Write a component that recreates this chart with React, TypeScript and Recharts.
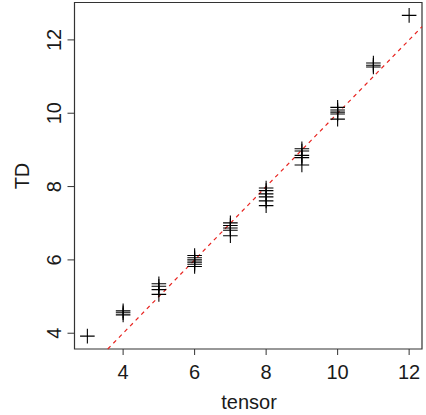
import React from 'react';
import { ScatterChart, Scatter, XAxis, YAxis, ReferenceArea, ReferenceLine } from 'recharts';

const tensor = [3, 4, 4, 4, 5, 5, 5, 5, 6, 6, 6, 6, 6, 6, 7, 7, 7, 7, 7, 8, 8, 8, 8, 8, 8, 9, 9, 9, 9, 9, 10, 10, 10, 10, 10, 11, 11, 11, 12];
const td = [3.92, 4.61, 4.56, 4.5, 5.35, 5.28, 5.19, 5.06, 6.12, 6.06, 6.0, 5.94, 5.88, 5.82, 7.01, 6.94, 6.87, 6.81, 6.66, 7.96, 7.89, 7.8, 7.72, 7.61, 7.48, 9.03, 8.97, 8.85, 8.79, 8.59, 10.16, 10.09, 10.03, 9.98, 9.84, 11.37, 11.31, 11.26, 12.67];
const xTicks = [4, 6, 8, 10, 12];
const yTicks = [4, 6, 8, 10, 12];
const xDomain = [2.64, 12.36];
const yDomain = [3.57, 13.02];
const ablineEnds = [3.57, 12.36];

const data = tensor.map((x, i) => ({ x, y: td[i] }));

const FONT = 'Liberation Sans, Arial, Helvetica, sans-serif';
const TXT = '#1a1a1a';

const Plus = (props: any) => {
  const { cx, cy } = props;
  const h = 7.3;
  return (
    <path d={`M${cx - h},${cy}H${cx + h}M${cx},${cy - h}V${cy + h}`} stroke="#000" strokeWidth={1.1} fill="none" />
  );
};

const XTick = (props: any) => {
  const { x, payload } = props;
  return (
    <text x={x} y={379} textAnchor="middle" fontSize={20} fontFamily={FONT} fill={TXT}>
      {payload.value}
    </text>
  );
};

const YTick = (props: any) => {
  const { y, payload } = props;
  return (
    <text x={61.2} y={y} transform={`rotate(-90 61.2 ${y})`} textAnchor="middle" fontSize={20} fontFamily={FONT} fill={TXT}>
      {payload.value}
    </text>
  );
};

export default function App() {
  return (
    <div style={{ position: 'absolute', left: 0, top: 0 }}>
      <ScatterChart width={426} height={415} margin={{ top: 2.5, right: 4, bottom: 0, left: 0 }}>
        <XAxis
          type="number"
          dataKey="x"
          domain={xDomain}
          ticks={xTicks}
          allowDataOverflow
          height={66}
          axisLine={false}
          tickLine={{ stroke: '#333' }}
          tickSize={6}
          tick={<XTick />}
        />
        <YAxis
          type="number"
          dataKey="y"
          domain={yDomain}
          ticks={yTicks}
          allowDataOverflow
          width={74.5}
          axisLine={false}
          tickLine={{ stroke: '#333' }}
          tickSize={7}
          tick={<YTick />}
        />
        <ReferenceArea x1={xDomain[0]} x2={xDomain[1]} y1={yDomain[0]} y2={yDomain[1]} fill="none" stroke="#333" strokeWidth={1.2} ifOverflow="visible" />
        <ReferenceLine
          segment={[{ x: ablineEnds[0], y: ablineEnds[0] }, { x: ablineEnds[1], y: ablineEnds[1] }]}
          stroke="#e8231f"
          strokeDasharray="4 4"
          strokeWidth={1.2}
          ifOverflow="visible"
        />
        <Scatter data={data} shape={<Plus />} isAnimationActive={false} />
        <text x={249} y={408.5} textAnchor="middle" fontSize={20} fontFamily={FONT} fill={TXT}>tensor</text>
        <text x={28.5} y={176} transform="rotate(-90 28.5 176)" textAnchor="middle" fontSize={20} fontFamily={FONT} fill={TXT}>TD</text>
      </ScatterChart>
    </div>
  );
}
